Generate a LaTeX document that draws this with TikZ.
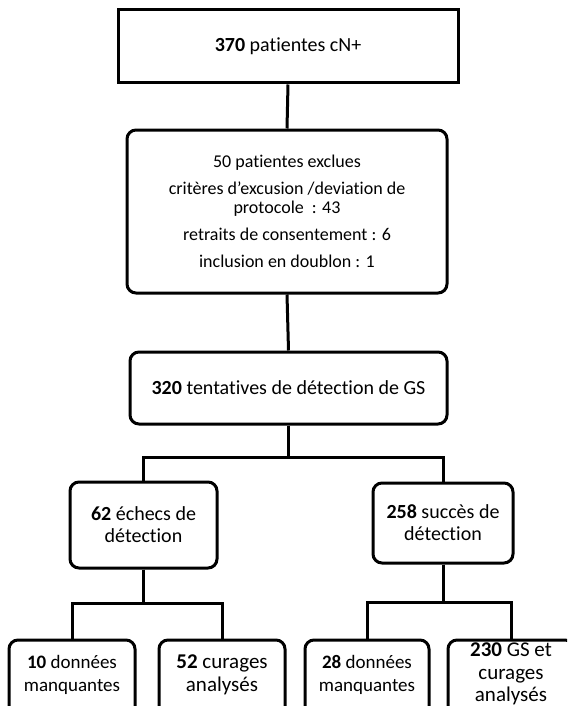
\documentclass[tikz,border=0pt]{standalone}
\usepackage{fontspec}
\setmainfont{Carlito}[Ligatures=NoCommon]
\usetikzlibrary{positioning,calc}

\begin{document}
\begin{tikzpicture}[
  x=1pt,y=-1pt,
  every node/.style={font=\fontsize{20}{22}\selectfont},
  flat/.style={draw=black,line width=3pt,align=center,inner sep=0pt},
  rbox/.style={flat,rounded corners=9pt},
  leaf/.style={rbox,minimum width=126pt,minimum height=76pt,text depth=9pt},
  conn/.style={draw=black,line width=3pt},
]
\useasboundingbox (0,0) rectangle (567,706);
\clip (0,0) rectangle (567,706);

%% ── Inclusion ────────────────────────────────────────────────────────────
\node[flat,minimum width=340pt,minimum height=73pt] (incl) at (288,46.5)
  {\textbf{370} patientes cN+};

\node[rbox,minimum width=320pt,minimum height=163pt,
      font=\fontsize{18}{19.5}\selectfont] (excl) at (287,211.5)
  {50 patientes exclues\\[7.5pt]
   critères d'excusion /deviation de\\
   protocole~ : 43\\[7.5pt]
   retraits de consentement : 6\\[7.5pt]
   inclusion en doublon : 1};

\node[rbox,minimum width=317pt,minimum height=72pt] (tent) at (288.5,388)
  {\textbf{320} tentatives de détection de GS};

%% ── Detection ────────────────────────────────────────────────────────────
\node[rbox,minimum width=147pt,minimum height=86pt] (fail) at (143.5,525)
  {\textbf{62} échecs de\\détection};
\node[rbox,minimum width=140pt,minimum height=80pt] (succ) at (443,523)
  {\textbf{258} succès de\\détection};

%% ── Analyse ──────────────────────────────────────────────────────────────
\node[leaf,font=\fontsize{19}{22.5}\selectfont] (miss1) at (72,678)
  {\textbf{10} données\\manquantes};
\node[leaf,font=\fontsize{21}{23}\selectfont] (cur1) at (222,678)
  {\textbf{52} curages\\analysés};
\node[leaf,minimum width=124pt,font=\fontsize{19}{22.5}\selectfont] (miss2) at (367,678)
  {\textbf{28} données\\manquantes};
\node[leaf,text depth=11pt,font=\fontsize{21}{22.5}\selectfont] (gs) at (511,678)
  {\textbf{230} GS et\\curages\\analysés};

%% Connections
\draw[conn] (incl.south) -- (excl.north);
\draw[conn] (excl.south) -- (tent.north);
\draw[conn] (tent.south) -- ++(0,32) -| (fail.north);
\draw[conn] (tent.south) -- ++(0,32) -| (succ.north);
\draw[conn] (fail.south) -- ++(0,34) -| (miss1.north);
\draw[conn] (fail.south) -- ++(0,34) -| (cur1.north);
\draw[conn] (succ.south) -- ++(0,38) -| (miss2.north);
\draw[conn] (succ.south) -- ++(0,38) -| (gs.north);

\end{tikzpicture}
\end{document}
